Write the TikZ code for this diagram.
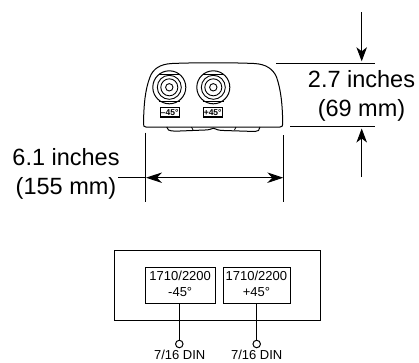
\documentclass[tikz,border=0pt]{standalone}
\usepackage{fontspec}
\setmainfont{Liberation Sans}
\usetikzlibrary{arrows.meta}
\tikzset{
  dimtext/.style={font=\fontsize{23.5}{28}\selectfont,anchor=base,inner sep=0pt},
  smalltext/.style={font=\fontsize{13}{15}\selectfont,anchor=base,inner sep=0pt},
  polbox/.style={draw,line width=1.2pt,inner sep=0pt,minimum width=19pt,minimum height=9.5pt,font=\bfseries\fontsize{8.5}{9}\selectfont},
  blockbox/.style={draw,line width=1.1pt,inner sep=0pt,anchor=north west},
  port/.style={circle,draw,line width=1pt,inner sep=0pt,minimum size=7.5pt},
  ln/.style={line width=0.9pt},
  dimarrow/.style={line width=0.9pt,-{Stealth[length=14pt,width=10.5pt,inset=4pt]}},
  dimarrows/.style={line width=0.9pt,{Stealth[length=16pt,width=10.5pt,inset=5pt]}-{Stealth[length=16pt,width=10.5pt,inset=5pt]}}
}
\begin{document}
\begin{tikzpicture}[x=1pt,y=-1pt]
\useasboundingbox (0,0) rectangle (419,362);
% device body
\draw[line width=1pt] (146,127) .. controls (144,127) and (143.5,126) .. (143.5,124)
  .. controls (143.8,105) and (145,90) .. (150,77)
  .. controls (153,69) and (160,64) .. (172,63.5)
  .. controls (195,62.5) and (232,62.5) .. (254,63.5)
  .. controls (266,64) and (273,69) .. (276.5,77)
  .. controls (281,90) and (282.5,105) .. (282.7,124)
  .. controls (282.7,126) and (282,127) .. (280,127) -- cycle;
% underside
\draw[line width=1pt] (166.7,127) -- (168.5,130) .. controls (172,131.5) and (176,131) .. (180,131)
  -- (205,130) .. controls (209,130) and (211,129) .. (213.5,128.2)
  .. controls (216,129.5) and (219,130.5) .. (224,130.5) -- (255,131.5) -- (258.5,130.5) -- (260,127);
\draw[line width=0.7pt] (191.5,127) -- (193,130);
\draw[line width=0.7pt] (236,127) -- (234.5,130);
% connectors
\foreach \cx in {169.3,213.3}{
  \draw[line width=1pt] (\cx,87.3) circle (16.5);
  \draw[line width=0.9pt] (\cx,87.3) circle (12);
  \draw[line width=0.9pt] (\cx,87.3) circle (8.5);
  \draw[line width=0.9pt] (\cx,87.3) circle (3.7);
  \draw[line width=0.6pt] (\cx-10.5,73.8) -- (\cx+10.5,73.8);
  \draw[line width=0.6pt] (\cx-10.5,100.8) -- (\cx+10.5,100.8);
}
\node[polbox] (minus) at (169.7,112.3) {--45°};
\node[polbox] (plus) at (212.7,112.3) {+45°};
% width dimension
\coordinate (wa) at (145.2,132.5);
\coordinate (wb) at (145.2,201.7);
\coordinate (wc) at (283.3,135);
\coordinate (wd) at (283.3,201.7);
\coordinate (we) at (118,177.7);
\coordinate (wf) at (146,177.7);
\coordinate (wg) at (283.3,177.7);
\draw[ln] (wa) -- (wb);
\draw[ln] (wc) -- (wd);
\draw[ln] (we) -- (wf);
\draw[dimarrows] (wf) -- (wg);
\node[dimtext] (w1) at (66,165) {6.1 inches};
\node[dimtext] (w2) at (66,194) {(155 mm)};
% height dimension
\coordinate (ha) at (276,63.3);
\coordinate (hb) at (374.5,63.3);
\coordinate (hc) at (290,126.3);
\coordinate (hd) at (374.5,126.3);
\coordinate (he) at (361.7,12);
\coordinate (hf) at (361.7,61.3);
\coordinate (hg) at (361.7,177);
\coordinate (hh) at (361.7,128.5);
\draw[ln] (ha) -- (hb);
\draw[ln] (hc) -- (hd);
\draw[dimarrow] (he) -- (hf);
\draw[dimarrow] (hg) -- (hh);
\node[dimtext] (h1) at (361.5,87) {2.7 inches};
\node[dimtext] (h2) at (361.5,116) {(69 mm)};
% block diagram
\node[blockbox,minimum width=205.4pt,minimum height=70pt] (outer) at (114.3,250) {};
\node[blockbox,minimum width=69.7pt,minimum height=36pt] (b1) at (145.3,267.3) {};
\node[blockbox,minimum width=67.3pt,minimum height=36pt] (b2) at (222.7,267.3) {};
\node[smalltext] (b1a) at (180.2,280) {1710/2200};
\node[smalltext] (b1b) at (180.2,296) {-45°};
\node[smalltext] (b2a) at (256.4,280) {1710/2200};
\node[smalltext] (b2b) at (256.4,296) {+45°};
\node[port] (p1) at (179.3,344) {};
\node[port] (p2) at (256.7,344) {};
\draw[line width=1pt] (b1.south -| p1) -- (p1);
\draw[line width=1pt] (b2.south -| p2) -- (p2);
\node[smalltext] (d1) at (179.7,359) {7/16 DIN};
\node[smalltext] (d2) at (256.7,359) {7/16 DIN};
\end{tikzpicture}
\end{document}
